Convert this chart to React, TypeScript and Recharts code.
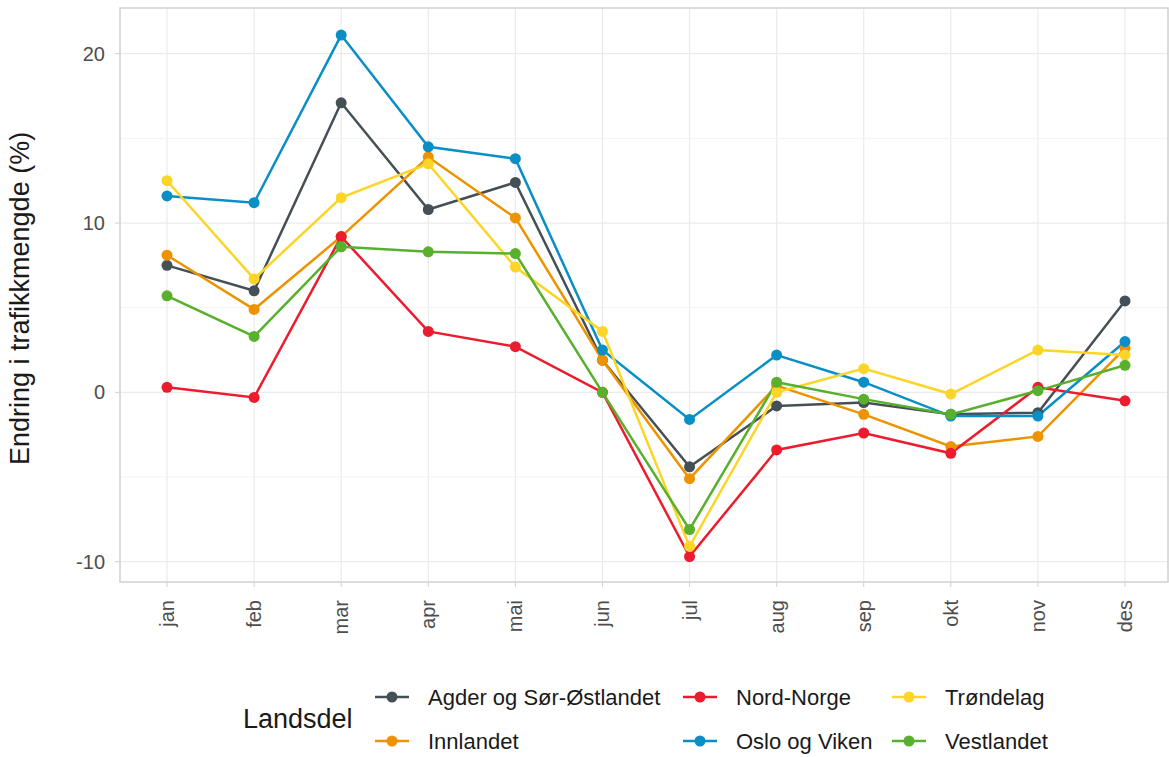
import React from 'react';
import { LineChart, Line, XAxis, YAxis, CartesianGrid, ReferenceLine } from 'recharts';

const months = ['jan', 'feb', 'mar', 'apr', 'mai', 'jun', 'jul', 'aug', 'sep', 'okt', 'nov', 'des'];
const agder = [7.5, 6.0, 17.1, 10.8, 12.4, 1.9, -4.4, -0.8, -0.6, -1.3, -1.2, 5.4];
const innlandet = [8.1, 4.9, 9.2, 13.9, 10.3, 1.9, -5.1, 0.4, -1.3, -3.2, -2.6, 2.6];
const nordNorge = [0.3, -0.3, 9.2, 3.6, 2.7, 0.0, -9.7, -3.4, -2.4, -3.6, 0.3, -0.5];
const oslo = [11.6, 11.2, 21.1, 14.5, 13.8, 2.5, -1.6, 2.2, 0.6, -1.4, -1.4, 3.0];
const trondelag = [12.5, 6.7, 11.5, 13.5, 7.4, 3.6, -9.1, 0.0, 1.4, -0.1, 2.5, 2.2];
const vestlandet = [5.7, 3.3, 8.6, 8.3, 8.2, 0.0, -8.1, 0.6, -0.4, -1.3, 0.1, 1.6];

const seriesNames = ['Agder og Sør-Østlandet', 'Innlandet', 'Nord-Norge', 'Oslo og Viken', 'Trøndelag', 'Vestlandet'];
const seriesValues = [agder, innlandet, nordNorge, oslo, trondelag, vestlandet];
const seriesColors = ['#454f56', '#ee9300', '#ec1c2e', '#0a8ec6', '#fdd526', '#58b02c'];

const yTicks = [-10, 0, 10, 20];
const yMinor = [-5, 5, 15];
const yDomain: [number, number] = [-11.2, 22.7];

const data = months.map((m, i) => {
  const row: Record<string, string | number> = { month: m };
  seriesNames.forEach((n, j) => {
    row[n] = seriesValues[j][i];
  });
  return row;
});

const FONT = '"Liberation Sans", Arial, sans-serif';

const XTick = (props: any) => {
  const { x, y, payload } = props;
  const ty = y + 11;
  return (
    <text
      x={x}
      y={ty}
      transform={`rotate(-90, ${x}, ${ty})`}
      textAnchor="end"
      dominantBaseline="central"
      fill="#4d4d4d"
      fontSize={20}
      fontFamily={FONT}
    >
      {payload.value}
    </text>
  );
};

const YTick = (props: any) => {
  const { x, y, payload } = props;
  return (
    <text x={x} y={y} textAnchor="end" dominantBaseline="central" fill="#4d4d4d" fontSize={20} fontFamily={FONT}>
      {payload.value}
    </text>
  );
};

const legendCols = [
  { x: 375, items: [0, 1] },
  { x: 683, items: [2, 3] },
  { x: 892, items: [4, 5] },
];
const legendRows = [697, 741];

export default function App() {
  return (
    <div style={{ position: 'absolute', left: 0, top: 0, width: 1169, height: 757, background: '#fff' }}>
      <LineChart width={1169} height={757} data={data} margin={{ top: 8, right: 1, bottom: 0, left: 0 }}>
        {yMinor.map((v) => (
          <ReferenceLine key={v} y={v} stroke="#f3f3f3" strokeWidth={1} />
        ))}
        <CartesianGrid stroke="#ebebeb" strokeWidth={1.2} />
        <XAxis
          dataKey="month"
          padding={{ left: 47, right: 43 }}
          tick={<XTick />}
          tickLine={{ stroke: '#d0d0d0' }}
          tickSize={5}
          axisLine={false}
          interval={0}
          height={175}
        />
        <YAxis
          type="number"
          domain={yDomain}
          ticks={yTicks}
          allowDataOverflow
          width={120}
          tick={<YTick />}
          tickLine={{ stroke: '#d0d0d0' }}
          tickSize={5}
          tickMargin={10}
          axisLine={false}
          label={{
            value: 'Endring i trafikkmengde (%)',
            angle: -90,
            position: 'insideLeft',
            dx: 14,
            dy: 170,
            style: { fontSize: 27, fill: '#1a1a1a', fontFamily: FONT },
          }}
        />
        {seriesNames.map((n, j) => (
          <Line
            key={n}
            dataKey={n}
            type="linear"
            stroke={seriesColors[j]}
            strokeWidth={2.5}
            dot={{ r: 5.5, fill: seriesColors[j], stroke: 'none' }}
            activeDot={false}
            isAnimationActive={false}
          />
        ))}
      </LineChart>
      <svg width={1169} height={757} style={{ position: 'absolute', left: 0, top: 0, pointerEvents: 'none' }}>
        <rect x={120} y={8} width={1048} height={574} fill="none" stroke="#d3d3d3" strokeWidth={1.5} />
        <text x={243} y={719} dominantBaseline="central" fontSize={27} fontFamily={FONT} fill="#1a1a1a">
          Landsdel
        </text>
        {legendCols.map((col) =>
          col.items.map((idx, r) => (
            <g key={idx}>
              <line x1={col.x} x2={col.x + 34} y1={legendRows[r]} y2={legendRows[r]} stroke={seriesColors[idx]} strokeWidth={2.5} />
              <circle cx={col.x + 17} cy={legendRows[r]} r={5.5} fill={seriesColors[idx]} />
              <text
                x={col.x + 53}
                y={legendRows[r]}
                dominantBaseline="central"
                fontSize={22}
                fontFamily={FONT}
                fill="#1a1a1a"
              >
                {seriesNames[idx]}
              </text>
            </g>
          ))
        )}
      </svg>
    </div>
  );
}
